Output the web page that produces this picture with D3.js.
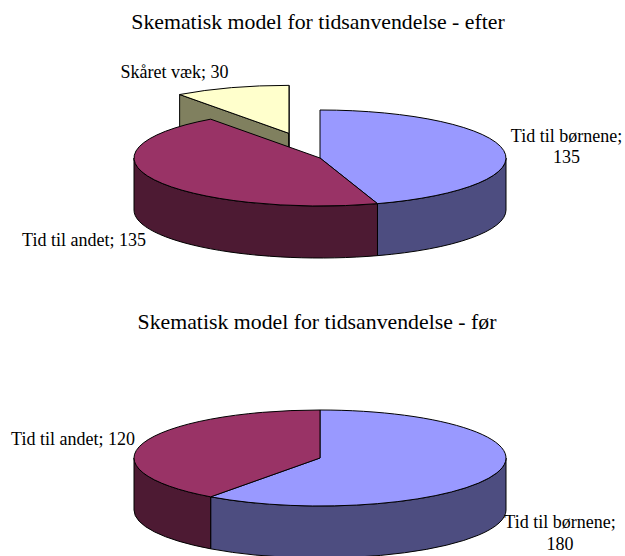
<!DOCTYPE html>
<html><head><meta charset="utf-8">
<script src="https://cdn.jsdelivr.net/npm/d3@7"></script>
<style>html,body{margin:0;padding:0;background:#fff}svg{display:block}text{font-family:"Liberation Serif",serif;fill:#000}</style>
</head><body><div id="c"></div>
<script>
const categories = ["Tid til børnene", "Tid til andet", "Skåret væk"];
const efterValues = [135, 135, 30];
const forValues = [180, 120];
const explodeEfter = [0, 0, 0.54];
const explodeFor = [0, 0];
const topColors = ["#9999FF", "#993366", "#FFFFCC"];
const wallColors = ["#4D4D80", "#4D1A33", "#80805F"];
const titleEfter = "Skematisk model for tidsanvendelse - efter";
const titleFor = "Skematisk model for tidsanvendelse - før";

const svg = d3.select("#c").append("svg").attr("width", 625).attr("height", 556);
const pie = d3.pie().sort(null).value(d => d);
const RX = 186, RY = 48;

function drawPie(values, explode, cx, cy, depth) {
  const arcs = pie(values);
  const g = svg.append("g").attr("stroke", "#000").attr("stroke-width", 1).attr("stroke-linejoin", "round");
  const P = (a, ox, oy) => [cx + ox + RX * Math.sin(a), cy + oy - RY * Math.cos(a)];
  const items = arcs.map((a, i) => {
    const mid = (a.startAngle + a.endAngle) / 2, k = explode[i];
    return {a, i, ox: RX * k * Math.sin(mid), oy: -RY * k * Math.cos(mid)};
  });
  const sector = ({a, ox, oy}) => {
    const s = P(a.startAngle, ox, oy), e = P(a.endAngle, ox, oy);
    const large = a.endAngle - a.startAngle > Math.PI ? 1 : 0;
    return `M${cx + ox},${cy + oy}L${s}A${RX},${RY} 0 ${large} 1 ${e}Z`;
  };
  const wall = (a, i, ox, oy) => {
    const lo = Math.max(a.startAngle, Math.PI / 2), hi = Math.min(a.endAngle, 3 * Math.PI / 2);
    if (lo < hi) {
      const s = P(lo, ox, oy), e = P(hi, ox, oy);
      g.append("path")
        .attr("d", `M${s}A${RX},${RY} 0 0 1 ${e}L${e[0]},${e[1] + depth}A${RX},${RY} 0 0 0 ${s[0]},${s[1] + depth}Z`)
        .attr("fill", wallColors[i]);
    }
  };
  const exploded = items.filter(d => d.ox !== 0 || d.oy !== 0);
  const rest = items.filter(d => d.ox === 0 && d.oy === 0);
  exploded.forEach(it => {
    const {a, i, ox, oy} = it;
    const c = [cx + ox, cy + oy];
    [P(a.startAngle, ox, oy), P(a.endAngle, ox, oy)].forEach(p => g.append("path")
      .attr("d", `M${p}L${c}L${c[0]},${c[1] + depth}L${p[0]},${p[1] + depth}Z`)
      .attr("fill", wallColors[i]));
    wall(a, i, ox, oy);
    g.append("path").attr("d", sector(it)).attr("fill", topColors[i]);
  });
  rest.forEach(it => wall(it.a, it.i, 0, 0));
  rest.forEach(it => g.append("path").attr("d", sector(it)).attr("fill", topColors[it.i]));
}

function label(lines, x, y, size = 18, lh = 21) {
  lines.forEach((t, i) => svg.append("text").attr("x", x).attr("y", y + i * lh)
    .attr("text-anchor", "middle").attr("font-size", size).text(t));
}

drawPie(efterValues, explodeEfter, 320, 158, 52);
drawPie(forValues, explodeFor, 320, 458, 52);

label([titleEfter], 318, 29, 21.8);
label([titleFor], 317, 329, 21.8);
label([`${categories[2]}; ${efterValues[2]}`], 174.5, 78);
label([`${categories[0]};`, `${efterValues[0]}`], 566.5, 142);
label([`${categories[1]}; ${efterValues[1]}`], 84, 246);
label([`${categories[1]}; ${forValues[1]}`], 73, 445);
label([`${categories[0]};`, `${forValues[0]}`], 560, 528, 18, 22);
</script></body></html>
